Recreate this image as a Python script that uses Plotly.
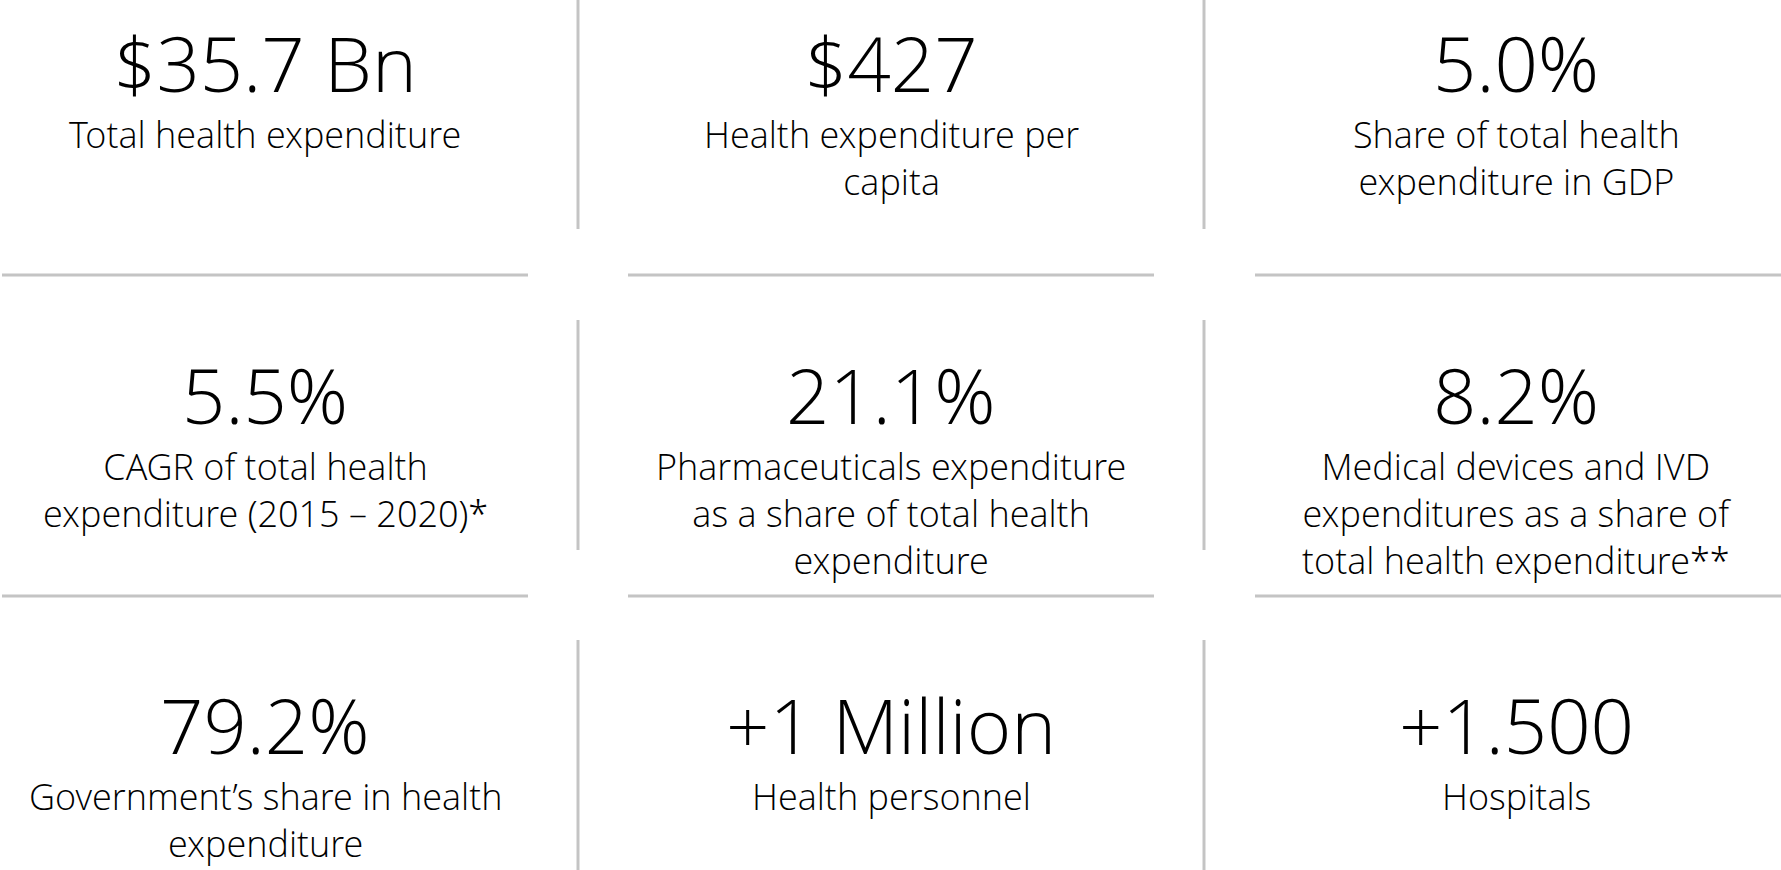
import plotly.graph_objects as go

W, H = 1781, 870

values = ["$35.7 Bn", "$427", "5.0%",
          "5.5%", "21.1%", "8.2%",
          "79.2%", "+1 Million", "+1.500"]
labels = ["Total health expenditure",
          "Health expenditure per<br>capita",
          "Share of total health<br>expenditure in GDP",
          "CAGR of total health<br>expenditure (2015 – 2020)*",
          "Pharmaceuticals expenditure<br>as a share of total health<br>expenditure",
          "Medical devices and IVD<br>expenditures as a share of<br>total health expenditure**",
          "Government’s share in health<br>expenditure",
          "Health personnel",
          "Hospitals"]

col_centers = [265, 891, 1516]
row_value_y = [62, 394, 724]
row_label_top = [108, 440, 770]

FONT = "Open Sans Light, Open Sans"
fig = go.Figure()
fig.add_trace(go.Scatter(x=[0, W], y=[0, H], mode="markers", marker=dict(opacity=0),
                         hoverinfo="skip", showlegend=False))

annotations = []
for i, (v, lab) in enumerate(zip(values, labels)):
    r, c = divmod(i, 3)
    cx = col_centers[c]
    annotations.append(dict(x=cx, y=row_value_y[r], xref="x", yref="y", text=v, showarrow=False,
                            font=dict(family=FONT, size=76, color="#000000", weight=300),
                            xanchor="center", yanchor="middle"))
    annotations.append(dict(x=cx, y=row_label_top[r], xref="x", yref="y", text=lab,
                            showarrow=False, align="center",
                            font=dict(family=FONT, size=36, color="#000000", weight=300),
                            xanchor="center", yanchor="top"))

shapes = []
gray = "#c4c4c4"
for vx in [578, 1204]:
    for (y0, y1) in [(0, 229), (320, 550), (640, 870)]:
        shapes.append(dict(type="line", x0=vx, x1=vx, y0=y0, y1=y1, xref="x", yref="y",
                           line=dict(color=gray, width=3)))
for hy in [275, 596]:
    for (x0, x1) in [(2, 528), (628, 1154), (1255, 1781)]:
        shapes.append(dict(type="line", x0=x0, x1=x1, y0=hy, y1=hy, xref="x", yref="y",
                           line=dict(color=gray, width=3)))

fig.update_layout(
    width=W, height=H, margin=dict(l=0, r=0, t=0, b=0),
    paper_bgcolor="white", plot_bgcolor="white",
    xaxis=dict(range=[0, W], visible=False, fixedrange=True),
    yaxis=dict(range=[H, 0], visible=False, fixedrange=True),
    annotations=annotations, shapes=shapes, showlegend=False,
)
fig.write_html("out.html", config={"displayModeBar": False},
               post_script="document.body.style.margin='0';document.body.style.overflow='hidden';")
